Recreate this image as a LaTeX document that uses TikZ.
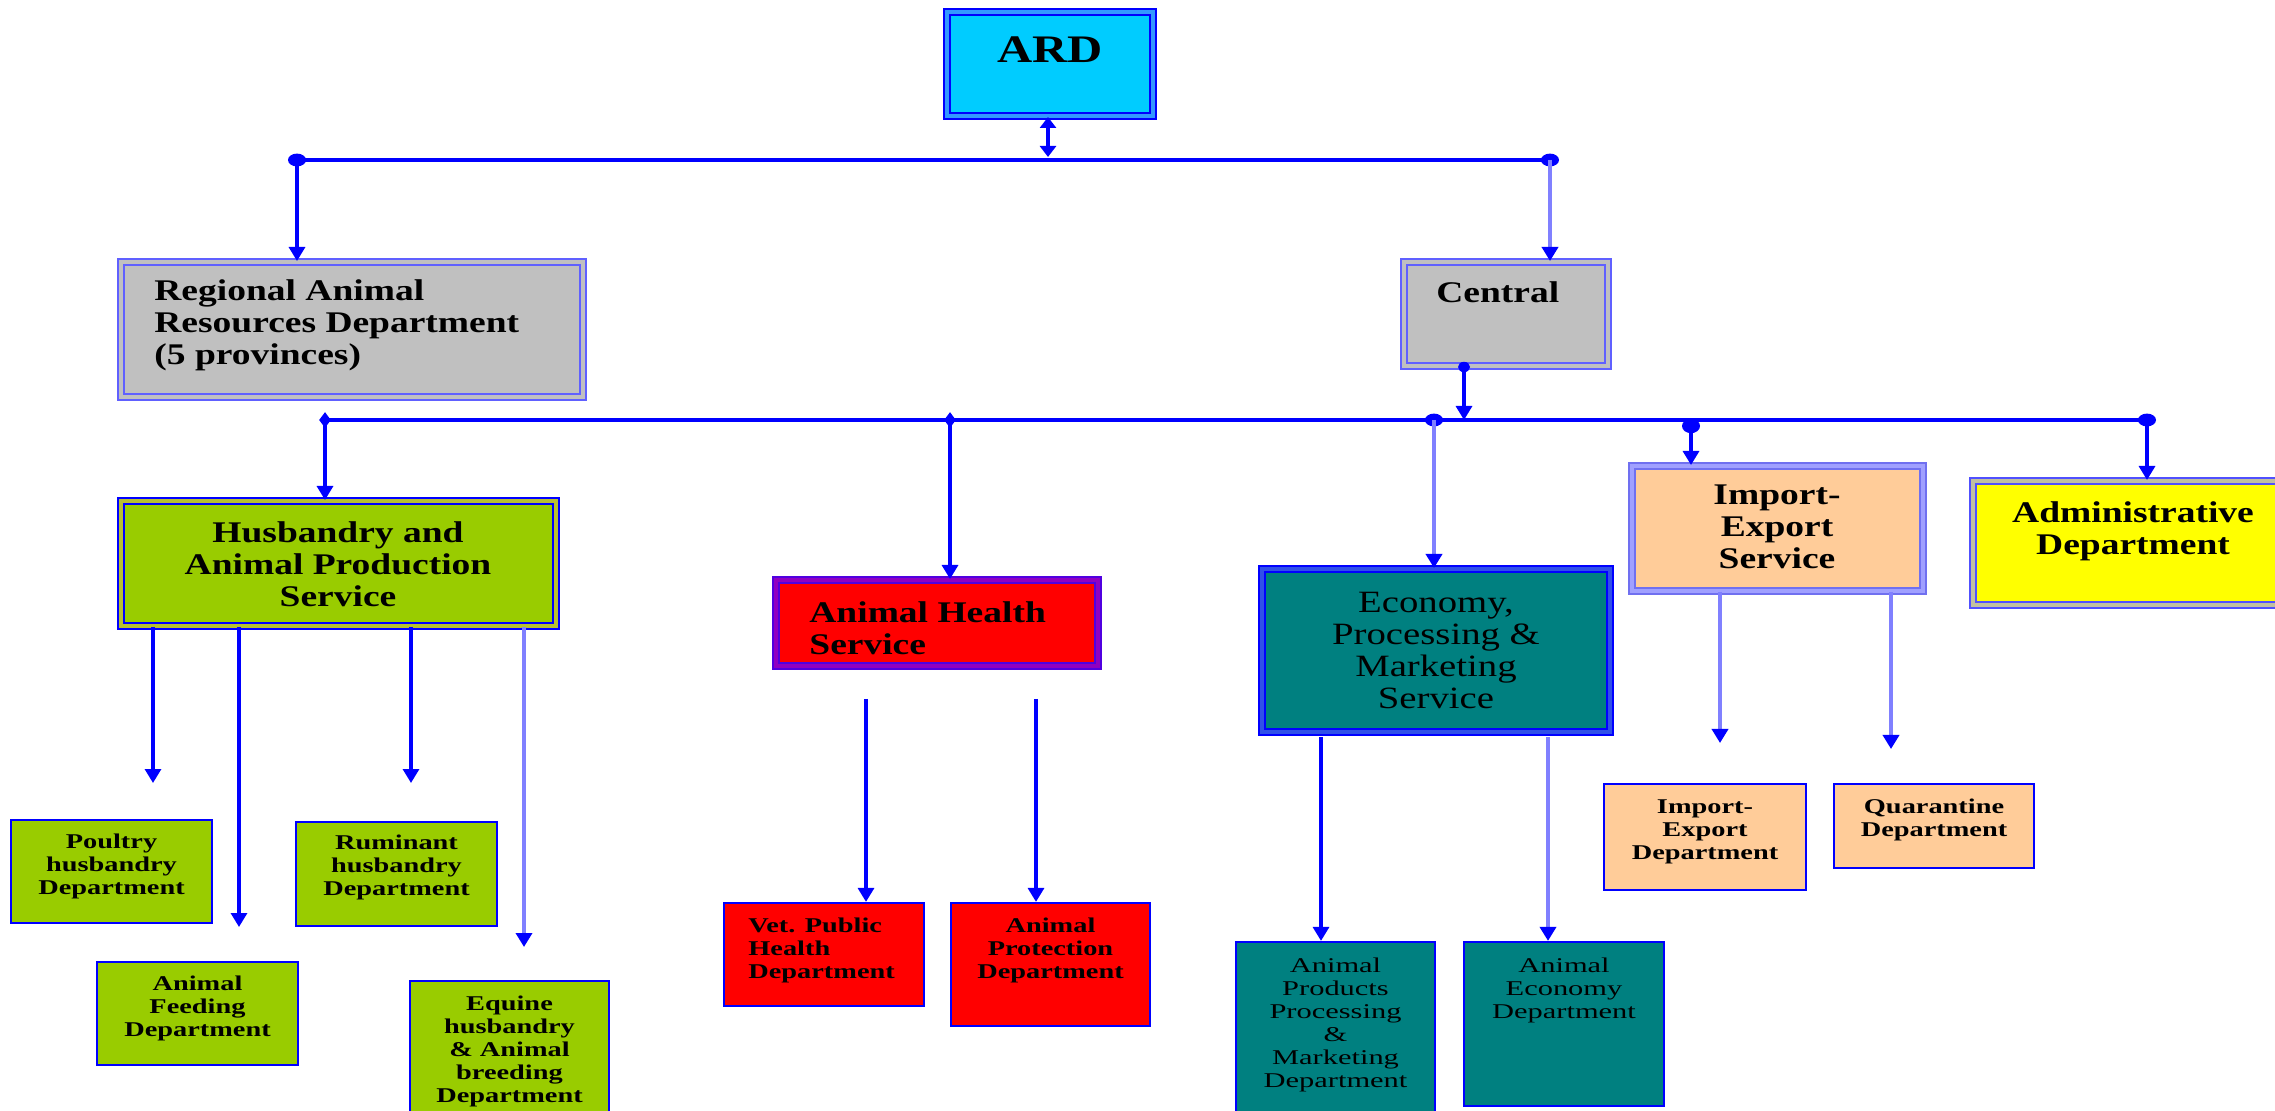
\documentclass[tikz,border=0pt]{standalone}
\usepackage{fontspec}
\setmainfont{Liberation Serif}[FakeStretch=1.25]
\newfontfamily\deptfont{Liberation Serif}[FakeStretch=1.35]
\newfontfamily\econfont{Liberation Serif}[FakeStretch=1.45]
\usetikzlibrary{arrows.meta,fit,shapes.geometric}
\definecolor{ardcyan}{HTML}{00CCFF}
\definecolor{silv}{HTML}{C0C0C0}
\definecolor{limec}{HTML}{99CC00}
\definecolor{tealc}{HTML}{008080}
\definecolor{peach}{HTML}{FFCC99}
\definecolor{ablue}{HTML}{0000FF}
\definecolor{lblue}{HTML}{8080FF}
\definecolor{ardband}{HTML}{3399FF}
\definecolor{regline}{HTML}{6060FF}
\definecolor{olive}{HTML}{B8C030}
\definecolor{ahline}{HTML}{5000E0}
\definecolor{ahband}{HTML}{9000C0}
\definecolor{ecoband}{HTML}{3050E8}
\definecolor{iesline}{HTML}{7070F0}
\definecolor{iesband}{HTML}{A0A0FF}
\definecolor{admline}{HTML}{5050FF}
\definecolor{admband}{HTML}{C0C0A0}
\definecolor{yel}{HTML}{FFFF00}
\tikzset{
  tipA/.tip={Triangle[length=7pt,width=8pt]},
  conn/.style={draw=ablue, line width=1.6pt, -tipA},
  connl/.style={draw=lblue, line width=1.9pt, -{Triangle[length=7pt,width=8pt,color=ablue]}},
  connd/.style={draw=ablue, line width=1.6pt, {Triangle[length=5.5pt,width=8pt]}-{Triangle[length=5.5pt,width=8pt]}},
  busline/.style={draw=ablue, line width=1.7pt},
  boxbase/.style={inner sep=0pt, line width=1pt, double distance=2.2pt},
  ardbox/.style={boxbase, fill=ardcyan, draw=ablue, double=ardband},
  regbox/.style={boxbase, fill=silv, draw=regline, double=silv},
  husbox/.style={boxbase, fill=limec, draw=ablue, double=olive},
  ahbox/.style={boxbase, fill=red, draw=ahline, double=ahband},
  ecobox/.style={boxbase, fill=tealc, draw=ablue, double=ecoband},
  iesbox/.style={boxbase, fill=peach, draw=iesline, double=iesband},
  admbox/.style={boxbase, fill=yel, draw=admline, double=admband},
  deptbox/.style={inner sep=0pt, draw=ablue, line width=1.1pt, fill=#1},
  svctext/.style={inner sep=0pt, text=black, font=\bfseries\fontsize{15}{16}\selectfont},
  ecotext/.style={inner sep=0pt, text=black, align=center, font=\fontsize{15.5}{16}\selectfont},
  depttext/.style={inner sep=0pt, text=black, align=center, font=\deptfont\bfseries\fontsize{10.5}{11.5}\selectfont},
  econdtext/.style={inner sep=0pt, text=black, align=center, font=\econfont\fontsize{10.5}{11.5}\selectfont},
  bigdot/.style={fill=ablue},
  smalldiam/.style={shape=diamond, fill=ablue, inner sep=0pt, minimum width=6pt, minimum height=8pt}
}
\begin{document}
\begin{tikzpicture}[x=0.5pt,y=-0.5pt]
\useasboundingbox (0,0) rectangle (2275,1111);
\fill[white] (0,0) rectangle (2275,1111);

% ---------- boxes ----------
\node[fit={(947,12) (1153,116)}, ardbox] (ard) {};
\node[fit={(121,262) (583,397)}, regbox] (reg) {};
\node[fit={(1404,262) (1608,366)}, regbox] (cen) {};
\node[fit={(121,501) (556,626)}, husbox] (hus) {};
\node[fit={(776,580) (1098,666)}, ahbox] (ah) {};
\node[fit={(1262,569) (1610,732)}, ecobox] (eco) {};
\node[fit={(1632,466) (1923,591)}, iesbox] (ies) {};
\node[fit={(1973,481) (2290,605)}, admbox] (adm) {};

\node[fit={(11,820) (212,923)}, deptbox=limec] (pou) {};
\node[fit={(296,822) (497,926)}, deptbox=limec] (rum) {};
\node[fit={(97,962) (298,1065)}, deptbox=limec] (fee) {};
\node[fit={(410,981) (609,1130)}, deptbox=limec] (equ) {};
\node[fit={(724,903) (924,1006)}, deptbox=red] (vet) {};
\node[fit={(951,903) (1150,1026)}, deptbox=red] (pro) {};
\node[fit={(1236,942) (1435,1130)}, deptbox=tealc] (prd) {};
\node[fit={(1464,942) (1664,1106)}, deptbox=tealc] (edp) {};
\node[fit={(1604,784) (1806,890)}, deptbox=peach] (ied) {};
\node[fit={(1834,784) (2034,868)}, deptbox=peach] (qua) {};

% ---------- texts ----------
\node[inner sep=0pt, font=\bfseries\fontsize{19.5}{20}\selectfont, anchor=north] (ard-t) at (1050,36) {ARD};
\node[svctext, align=left, anchor=north west] (reg-t) at (154,279) {Regional Animal\\Resources Department\\(5 provinces)};
\node[svctext, anchor=north west] (cen-t) at (1436,281) {Central};
\node[svctext, align=center, anchor=north] (hus-t) at (338,521) {Husbandry and\\Animal Production\\Service};
\node[svctext, align=left, anchor=north west] (ah-t) at (809,601) {Animal Health\\Service};
\node[ecotext, anchor=north] (eco-t) at (1436,592) {Economy,\\Processing \&\\Marketing\\Service};
\node[svctext, align=center, anchor=north] (ies-t) at (1777,484) {Import-\\Export\\Service};
\node[svctext, align=center, anchor=north] (adm-t) at (2133,501) {Administrative\\Department};

\node[depttext, anchor=north] (pou-t) at (111.5,834) {Poultry\\husbandry\\Department};
\node[depttext, anchor=north] (rum-t) at (396.5,835) {Ruminant\\husbandry\\Department};
\node[depttext, anchor=north] (fee-t) at (197.5,976) {Animal\\Feeding\\Department};
\node[depttext, anchor=north] (equ-t) at (509.5,996) {Equine\\husbandry\\\& Animal\\breeding\\Department};
\node[depttext, align=left, anchor=north west] (vet-t) at (748,918) {Vet. Public\\Health\\Department};
\node[depttext, anchor=north] (pro-t) at (1050.5,918) {Animal\\Protection\\Department};
\node[econdtext, anchor=north] (prd-t) at (1335.5,958) {Animal\\Products\\Processing\\\&\\Marketing\\Department};
\node[econdtext, anchor=north] (edp-t) at (1564,958) {Animal\\Economy\\Department};
\node[depttext, anchor=north] (ied-t) at (1705,799) {Import-\\Export\\Department};
\node[depttext, anchor=north] (qua-t) at (1934,799) {Quarantine\\Department};

% ---------- top bus ----------
\coordinate (j1) at (297,160);
\coordinate (j2) at (1550,160);
\coordinate (ja) at (1048,157);
\draw[busline] (j1) -- (j2);
\draw[connd] (ard.south -| ja) -- (ja);
\fill[bigdot] (j1) ellipse [x radius=4.5pt, y radius=3.2pt];
\fill[bigdot] (j2) ellipse [x radius=4.5pt, y radius=3.2pt];
\draw[conn] (j1) -- (reg.north -| j1);
\draw[connl] (j2) -- (cen.north -| j2);

% ---------- second bus ----------
\coordinate (k0) at (325,420);
\coordinate (k1) at (950,420);
\coordinate (k2) at (1434,420);
\coordinate (k3) at (1691,420);
\coordinate (k4) at (2147,420);
\coordinate (kc) at (1464,420);
\coordinate (k3d) at (1691,426);
\draw[busline] (k0) -- (k4);
\node[smalldiam] (dk0) at (k0) {};
\node[smalldiam] (dk1) at (k1) {};
\fill[bigdot] (k2) ellipse [x radius=4.5pt, y radius=3.2pt];
\fill[bigdot] (k3d) ellipse [x radius=4.5pt, y radius=3.6pt];
\fill[bigdot] (k4) ellipse [x radius=4.5pt, y radius=3.2pt];
\draw[conn] (cen.south -| kc) -- (kc);
\fill[bigdot] (cen.south -| kc) ellipse [x radius=3pt, y radius=2.6pt];
\draw[conn] (k0) -- (hus.north -| k0);
\draw[conn] (k1) -- (ah.north -| k1);
\draw[connl] (k2) -- (eco.north -| k2);
\draw[conn] (k3d) -- (ies.north -| k3d);
\draw[conn] (k4) -- (adm.north -| k4);

% ---------- husbandry children ----------
\coordinate (h1) at (153,783);
\coordinate (h2) at (239,927);
\coordinate (h3) at (411,783);
\coordinate (h4) at (524,947);
\draw[conn] (hus.south -| h1) -- (h1);
\draw[conn] (hus.south -| h2) -- (h2);
\draw[conn] (hus.south -| h3) -- (h3);
\draw[connl] (hus.south -| h4) -- (h4);

% ---------- animal health children ----------
\coordinate (v1) at (866,699);
\coordinate (v2) at (1036,699);
\draw[conn] (v1) -- (vet.north -| v1);
\draw[conn] (v2) -- (pro.north -| v2);

% ---------- economy children ----------
\coordinate (e1) at (1321,737);
\coordinate (e2) at (1548,737);
\draw[conn] (e1) -- (prd.north -| e1);
\draw[connl] (e2) -- (edp.north -| e2);

% ---------- import-export children ----------
\coordinate (i1) at (1720,743);
\coordinate (i2) at (1891,749);
\draw[connl] (ies.south -| i1) -- (i1);
\draw[connl] (ies.south -| i2) -- (i2);
\end{tikzpicture}
\end{document}
